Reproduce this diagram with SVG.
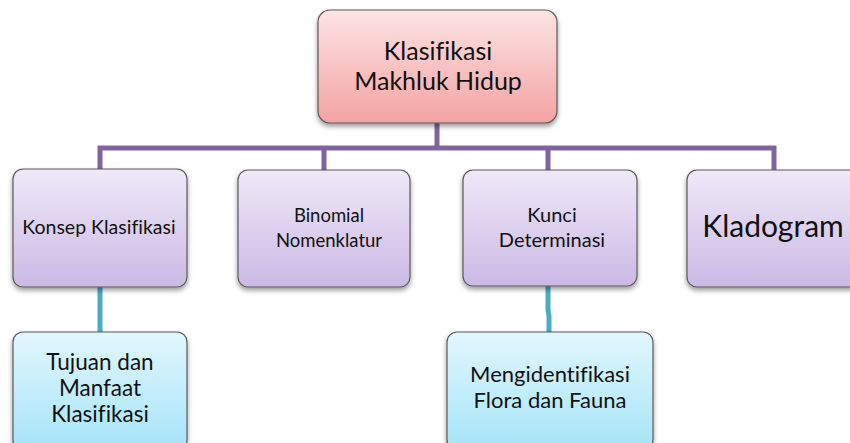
<svg xmlns="http://www.w3.org/2000/svg" width="850" height="443" viewBox="0 0 850 443">
<defs>
<linearGradient id="gRed" x1="0" y1="0" x2="0" y2="1"><stop offset="0" stop-color="#fde4e4"/><stop offset="1" stop-color="#f4a2a2"/></linearGradient>
<linearGradient id="gPur" x1="0" y1="0" x2="0" y2="1"><stop offset="0" stop-color="#efe9f7"/><stop offset="1" stop-color="#cbb9e5"/></linearGradient>
<linearGradient id="gTeal" x1="0" y1="0" x2="0" y2="1"><stop offset="0" stop-color="#e2f7fd"/><stop offset="1" stop-color="#a5e4f8"/></linearGradient>
<filter id="sh" x="-10%" y="-10%" width="120%" height="130%"><feDropShadow dx="0" dy="3" stdDeviation="2.5" flood-color="#000" flood-opacity="0.4"/></filter>
</defs>
<style>
.box{stroke:#5a5a5a;stroke-width:1.2;filter:url(#sh)}
.t{font-family:Lato,"Open Sans",sans-serif;fill:#111;text-anchor:middle;font-variant-ligatures:none;font-feature-settings:"liga" 0}
.pur{stroke:#8064a2;stroke-width:5;fill:none}
.teal{stroke:#4bacc6;stroke-width:5;fill:none}
</style>
<rect width="850" height="443" fill="#fff"/>
<g id="connectors">
<path class="pur" d="M437 122 V148 M100 170 V148 H774 V170 M324 148 V170 M548 148 V170"/>
<path class="teal" d="M100 287 V332 M548 286 V310 L549 316 V332"/>
</g>
<g id="root"><rect class="box" x="318" y="10" width="239" height="113" rx="12" fill="url(#gRed)"/>
<text class="t" x="438" y="60" font-size="25">Klasifikasi</text>
<text class="t" x="438" y="90" font-size="25">Makhluk Hidup</text></g>
<g id="konsep"><rect class="box" x="13" y="169" width="174" height="118" rx="10" fill="url(#gPur)"/>
<text class="t" x="99" y="234" font-size="19.5">Konsep Klasifikasi</text></g>
<g id="binomial"><rect class="box" x="238" y="170" width="172" height="117" rx="10" fill="url(#gPur)"/>
<text class="t" x="329" y="222" font-size="18.5">Binomial</text>
<text class="t" x="329" y="247" font-size="18.5">Nomenklatur</text></g>
<g id="kunci"><rect class="box" x="463" y="170" width="174" height="116" rx="10" fill="url(#gPur)"/>
<text class="t" x="552" y="222" font-size="20">Kunci</text>
<text class="t" x="552" y="247" font-size="20">Determinasi</text></g>
<g id="kladogram"><rect class="box" x="687" y="170" width="174" height="117" rx="10" fill="url(#gPur)"/>
<text class="t" x="773" y="237" font-size="30">Kladogram</text></g>
<g id="tujuan"><rect class="box" x="13" y="332" width="174" height="118" rx="10" fill="url(#gTeal)"/>
<text class="t" x="100" y="370" font-size="22.5">Tujuan dan</text>
<text class="t" x="100" y="396" font-size="22.5">Manfaat</text>
<text class="t" x="100" y="422" font-size="22.5">Klasifikasi</text></g>
<g id="mengidentifikasi"><rect class="box" x="447" y="332" width="206" height="118" rx="10" fill="url(#gTeal)"/>
<text class="t" x="550" y="382" font-size="22">Mengidentifikasi</text>
<text class="t" x="550" y="408" font-size="22">Flora dan Fauna</text></g>
</svg>
